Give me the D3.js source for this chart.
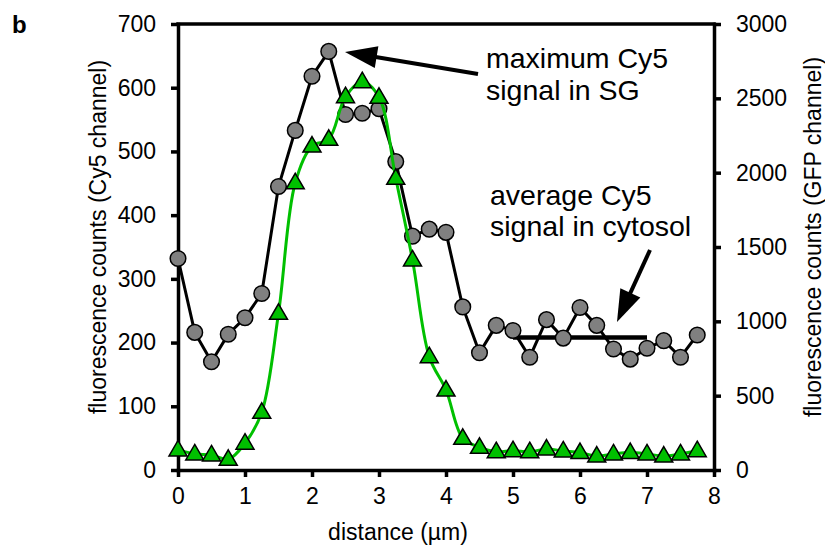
<!DOCTYPE html>
<html><head><meta charset="utf-8">
<script src="https://cdn.jsdelivr.net/npm/d3@7"></script>
<style>
html,body{margin:0;padding:0;background:#fff;}
svg{display:block;font-family:"Liberation Sans",Arial,Helvetica,sans-serif;}
</style></head>
<body>
<svg id="c" width="825" height="548"></svg>
<script>
// ---- data ----
const distance = [0,0.25,0.5,0.75,1,1.25,1.5,1.75,2,2.25,2.5,2.75,3,3.25,3.5,3.75,4,4.25,4.5,4.75,5,5.25,5.5,5.75,6,6.25,6.5,6.75,7,7.25,7.5,7.75];
const cy5 = [332,216,170,213,239,277,445,533,618,657,558,560,567,484,367,378,373,256,184,227,219,177,236,207,255,227,190,174,191,203,177,212];
const gfp = [135,108,101,72,180,388,1054,1932,2179,2224,2511,2612,2507,1962,1413,762,538,213,153,123,130,123,141,128,117,94,108,117,108,94,108,130];
const meanX = [5,7];
const meanY = [208,208];
const xTicks = [0,1,2,3,4,5,6,7,8];
const yLeftTicks = [0,100,200,300,400,500,600,700];
const yRightTicks = [0,500,1000,1500,2000,2500,3000];
const annot1 = ["maximum Cy5","signal in SG"];
const annot2 = ["average Cy5","signal in cytosol"];

const svg = d3.select("#c");
const L=178, R=714, T=24, B=470;
const x = d3.scaleLinear().domain([0,8]).range([L,R]);
const yL = d3.scaleLinear().domain([0,700]).range([B,T]);
const yR = d3.scaleLinear().domain([0,3000]).range([B,T]);

function styleAxis(g){
  g.select(".domain").attr("stroke","#000").attr("stroke-width",3.5).attr("stroke-linecap","square");
  g.selectAll(".tick line").attr("stroke","#000").attr("stroke-width",3.5);
  g.selectAll(".tick text").attr("fill","#000").style("font-size","23px").style("font-family","'Liberation Sans',Arial,sans-serif");
}
// frame top
svg.append("line").attr("x1",L).attr("x2",R).attr("y1",T).attr("y2",T).attr("stroke","#000").attr("stroke-width",3.5).attr("stroke-linecap","square");

const fmt = d3.format("d");
const gx = svg.append("g").attr("transform",`translate(0,${B})`)
  .call(d3.axisBottom(x).tickValues(xTicks).tickFormat(fmt).tickSize(7).tickSizeOuter(0).tickPadding(11));
styleAxis(gx);
const gl = svg.append("g").attr("transform",`translate(${L},0)`)
  .call(d3.axisLeft(yL).tickValues(yLeftTicks).tickFormat(fmt).tickSize(7).tickSizeOuter(0).tickPadding(15));
styleAxis(gl);
const gr = svg.append("g").attr("transform",`translate(${R},0)`)
  .call(d3.axisRight(yR).tickValues(yRightTicks).tickFormat(fmt).tickSize(7).tickSizeOuter(0).tickPadding(15));
styleAxis(gr);

// axis titles
svg.append("text").attr("x",398).attr("y",540).attr("text-anchor","middle").style("font-size","23px").text("distance (\u00b5m)");
svg.append("text").attr("transform",`translate(106,${(T+B)/2-10}) rotate(-90)`).attr("text-anchor","middle").style("font-size","23px").text("fluorescence counts (Cy5 channel)");
svg.append("text").attr("transform",`translate(821,${(T+B)/2-10}) rotate(-90)`).attr("text-anchor","middle").style("font-size","23px").text("fluorescence counts (GFP channel)");
svg.append("text").attr("x",12).attr("y",33).style("font-size","24px").style("font-weight","bold").text("b");

// mean line
svg.append("line").attr("x1",x(meanX[0])).attr("x2",x(meanX[1])).attr("y1",yL(meanY[0])).attr("y2",yL(meanY[1]))
  .attr("stroke","#000").attr("stroke-width",4.5);

// Cy5 series
const cyData = distance.map((d,i)=>[d,cy5[i]]);
svg.append("path").datum(cyData).attr("fill","none").attr("stroke","#000").attr("stroke-width",3)
  .attr("d",d3.line().x(d=>x(d[0])).y(d=>yL(d[1])));
svg.append("g").selectAll("circle").data(cyData).join("circle")
  .attr("cx",d=>x(d[0])).attr("cy",d=>yL(d[1])).attr("r",7.8)
  .attr("fill","#808080").attr("stroke","#000").attr("stroke-width",1.5);

// GFP series
const gData = distance.map((d,i)=>[d,gfp[i]]);
svg.append("path").datum(gData).attr("fill","none").attr("stroke","#00c000").attr("stroke-width",3)
  .attr("d",d3.line().curve(d3.curveCatmullRom.alpha(0.5)).x(d=>x(d[0])).y(d=>yR(d[1])));
const tri = "M0,-9.5L9,6L-9,6Z";
svg.append("g").selectAll("path").data(gData).join("path")
  .attr("transform",d=>`translate(${x(d[0])},${yR(d[1])})`).attr("d",tri)
  .attr("fill","#00c000").attr("stroke","#000").attr("stroke-width",1.5).attr("stroke-linejoin","miter");

// arrows
function arrow(x1,y1,x2,y2){
  const a=Math.atan2(y2-y1,x2-x1), hl=32, hw=11;
  const bx=x2-hl*Math.cos(a), by=y2-hl*Math.sin(a);
  svg.append("line").attr("x1",x1).attr("y1",y1).attr("x2",bx+4*Math.cos(a)).attr("y2",by+4*Math.sin(a)).attr("stroke","#000").attr("stroke-width",4);
  const px=-Math.sin(a), py=Math.cos(a);
  svg.append("path").attr("d",`M${x2},${y2}L${bx+hw*px},${by+hw*py}L${bx-hw*px},${by-hw*py}Z`).attr("fill","#000");
}
arrow(478,74,345,52);
arrow(650,250,617,322);

// annotation text
annot1.forEach((t,i)=>svg.append("text").attr("x",486).attr("y",68+i*32).style("font-size","28.5px").text(t));
annot2.forEach((t,i)=>svg.append("text").attr("x",490).attr("y",205+i*31).style("font-size","28.5px").text(t));
</script>
</body></html>
